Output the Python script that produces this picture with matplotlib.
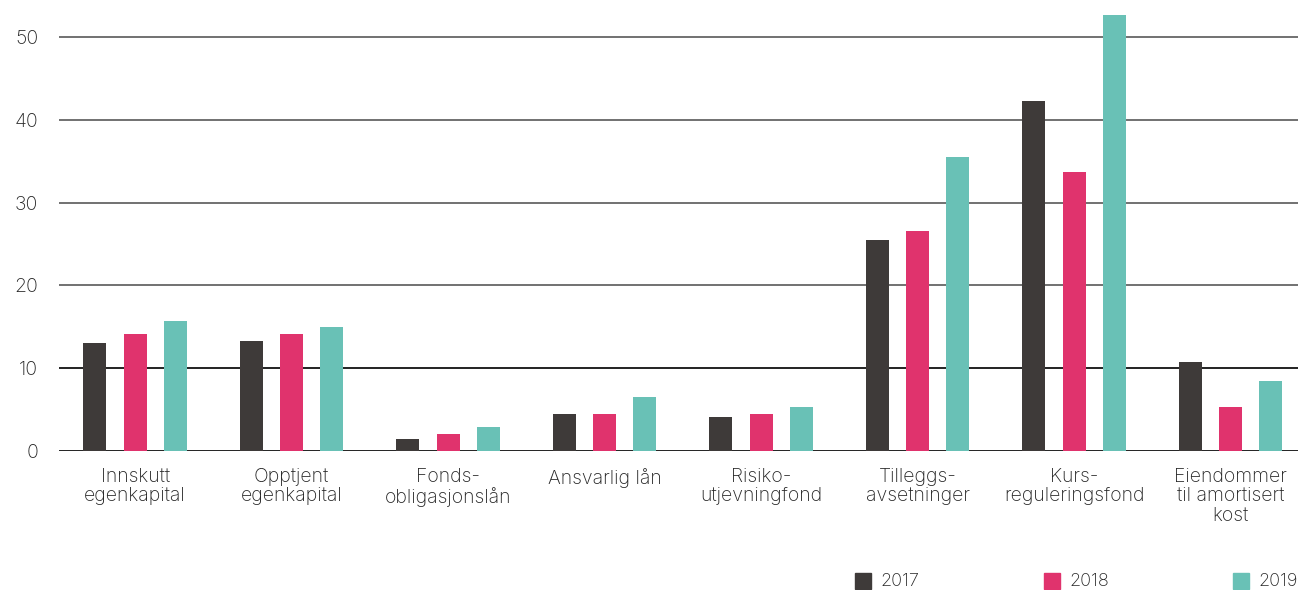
import matplotlib
matplotlib.use("Agg")
import matplotlib.pyplot as plt
from matplotlib.patches import Rectangle
import numpy as np

plt.rcParams['font.family'] = ['Inter', 'DejaVu Sans']
plt.rcParams['font.weight'] = 'light'

categories = ["Innskutt\negenkapital", "Opptjent\negenkapital", "Fonds-\nobligasjonslån",
              "Ansvarlig lån", "Risiko-\nutjevningfond", "Tilleggs-\navsetninger",
              "Kurs-\nreguleringsfond", "Eiendommer\ntil amortisert\nkost"]
years = ["2017", "2018", "2019"]
v2017 = [13.0, 13.3, 1.45, 4.45, 4.1, 25.5, 42.3, 10.75]
v2018 = [14.1, 14.1, 2.05, 4.45, 4.45, 26.6, 33.7, 5.3]
v2019 = [15.7, 15.0, 2.9, 6.5, 5.3, 35.5, 52.7, 8.45]
series = [v2017, v2018, v2019]
colors = ["#3e3a39", "#e0336d", "#69c1b6"]
yticks = [0, 10, 20, 30, 40, 50]

W, H = 1301, 590
FS = 14
TXT = "#262626"
fig = plt.figure(figsize=(W/100, H/100), dpi=100)
ax = fig.add_axes([59/W, (H-451)/H, 1239/W, (451-3.9)/H])

x = np.arange(len(categories))
offs = [-0.257, 0.0, 0.257]
bw = 0.147
for s, c, o in zip(series, colors, offs):
    ax.bar(x + o, s, width=bw, color=c, zorder=3)

ax.set_xlim(-0.486, 7.43)
ax.set_ylim(0, 54)
ax.set_yticks(yticks)
ax.set_yticklabels([str(t) for t in yticks], fontsize=FS, color=TXT)
for t in yticks:
    ax.axhline(t, color="#111111" if t in (0, 10) else "#666666", lw=1.3, zorder=2)
ax.tick_params(axis='y', length=0, pad=15)
ax.set_xticks(x)
ax.set_xticklabels(categories, fontsize=FS, color=TXT, linespacing=1.1, va='top')
ax.tick_params(axis='x', length=0, pad=12)
for sp in ax.spines.values():
    sp.set_visible(False)

# legend
leg_x = [855, 1044, 1233]
for lx, yr, c in zip(leg_x, years, colors):
    fig.patches.append(Rectangle((lx/W, (H-589)/H), 16/W, 16/H, transform=fig.transFigure,
                                 color=c, figure=fig))
    fig.text((lx+25)/W, (H-582)/H, yr, fontsize=13, color=TXT, va='center', ha='left')

fig.savefig("out.png", dpi=100)
